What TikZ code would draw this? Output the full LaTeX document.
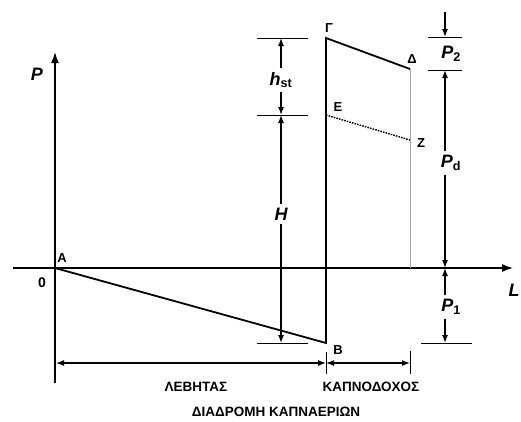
\documentclass[tikz,border=0pt]{standalone}
\usepackage{fontspec}
\setmainfont{Liberation Sans}
\usetikzlibrary{arrows.meta}
\newcommand{\qsub}[2]{\textit{#1}\textsubscript{\upshape #2}}
\tikzset{
  axisline/.style={line width=1.5pt, -{Latex[length=11pt,width=8pt]}},
  curve/.style={line width=1.8pt},
  dimline/.style={line width=1.3pt, -{Latex[length=8pt,width=6pt]}},
  dimboth/.style={line width=1.3pt, {Latex[length=8pt,width=6pt]}-{Latex[length=8pt,width=6pt]}},
  dimtick/.style={line width=0.8pt},
  ptlabel/.style={font=\fontsize{13}{13}\selectfont\bfseries, inner sep=1pt},
  qty/.style={font=\fontsize{18}{18}\selectfont\bfseries\itshape, inner sep=4pt},
  caption/.style={font=\fontsize{13.5}{13.5}\selectfont\bfseries},
}
\begin{document}
\begin{tikzpicture}[x=1pt, y=-1pt]
    \useasboundingbox (0,0) rectangle (521,421);

    % 1. Các điểm của đồ thị
    \coordinate (A) at (55,268);
    \coordinate (B) at (326,343);
    \coordinate (G) at (326,38);
    \coordinate (D) at (410,69);
    \coordinate (E) at (326,115);
    \coordinate (Z) at (410,140);
    \coordinate (Dfoot) at (410,268);

    % 2. Hai trục P và L
    \coordinate (Pbot) at (55,383);
    \coordinate (Ptop) at (55,52);
    \coordinate (Lleft) at (13,268);
    \coordinate (Lright) at (513,268);
    \draw[axisline] (Pbot) -- (Ptop);
    \draw[axisline] (Lleft) -- (Lright);

    % 3. Đường áp suất
    \draw[curve] (A) -- (B) -- (G) -- (D);
    \draw[line width=0.6pt, gray!70] (D) -- (Dfoot);
    \draw[line width=1.4pt, dash pattern=on 1.6pt off 1.1pt] (E) -- (Z);

    % 4. Kích thước bên trái: h_st và H
    \draw[dimtick] (257,38) -- (308,38);
    \draw[dimtick] (257,115) -- (308,115);
    \draw[dimtick] (257,343) -- (308,343);
    \node[qty] (hst) at (281,80) {\qsub{h}{st}};
    \node[qty] (H) at (281,214) {H};
    \draw[dimline] (hst.north) -- (281,38);
    \draw[dimline] (hst.south) -- (281,115);
    \draw[dimline] (H.north) -- (281,115);
    \draw[dimline] (H.south) -- (281,343);

    % 5. Kích thước bên phải: P_2, P_d, P_1
    \draw[dimtick] (428,37) -- (462,37);
    \draw[dimtick] (428,70) -- (462,70);
    \draw[dimtick] (421,343) -- (472,343);
    \node[qty] (P2) at (451,54) {\qsub{P}{2}};
    \node[qty] (Pd) at (451,163) {\qsub{P}{d}};
    \node[qty] (P1) at (451,307) {\qsub{P}{1}};
    \draw[dimline] (445,12) -- (445,37);
    \draw[dimline] (Pd.north -| 445,0) -- (445,70);
    \draw[dimline] (Pd.south -| 445,0) -- (445,268);
    \draw[dimline] (P1.north -| 445,0) -- (445,268);
    \draw[dimline] (P1.south -| 445,0) -- (445,343);

    % 6. Kích thước bên dưới
    \draw[dimtick] (326,352) -- (326,374);
    \draw[dimtick] (410,351) -- (410,374);
    \draw[dimboth] (56,363) -- (326,363);
    \draw[dimboth] (326,363) -- (410,363);

    % 7. Tên các điểm và các trục
    \node[ptlabel] (lA) at (62,258) {A};
    \node[ptlabel] (lB) at (338,350) {B};
    \node[ptlabel] (lG) at (329,28) {Γ};
    \node[ptlabel] (lD) at (412,59) {Δ};
    \node[ptlabel] (lE) at (338,107) {E};
    \node[ptlabel] (lZ) at (421,143) {Z};
    \node[font=\fontsize{14}{14}\selectfont\bfseries] (l0) at (42,283) {0};
    \node[qty] (lP) at (37,74) {P};
    \node[qty] (lL) at (514,290) {L};

    % 8. Chú thích
    \node[caption] (boiler) at (196,387) {ΛΕΒΗΤΑΣ};
    \node[caption] (chimney) at (371,387) {ΚΑΠΝΟΔΟΧΟΣ};
    \node[caption] (path) at (276,412) {ΔΙΑΔΡΟΜΗ ΚΑΠΝΑΕΡΙΩΝ};
\end{tikzpicture}
\end{document}
